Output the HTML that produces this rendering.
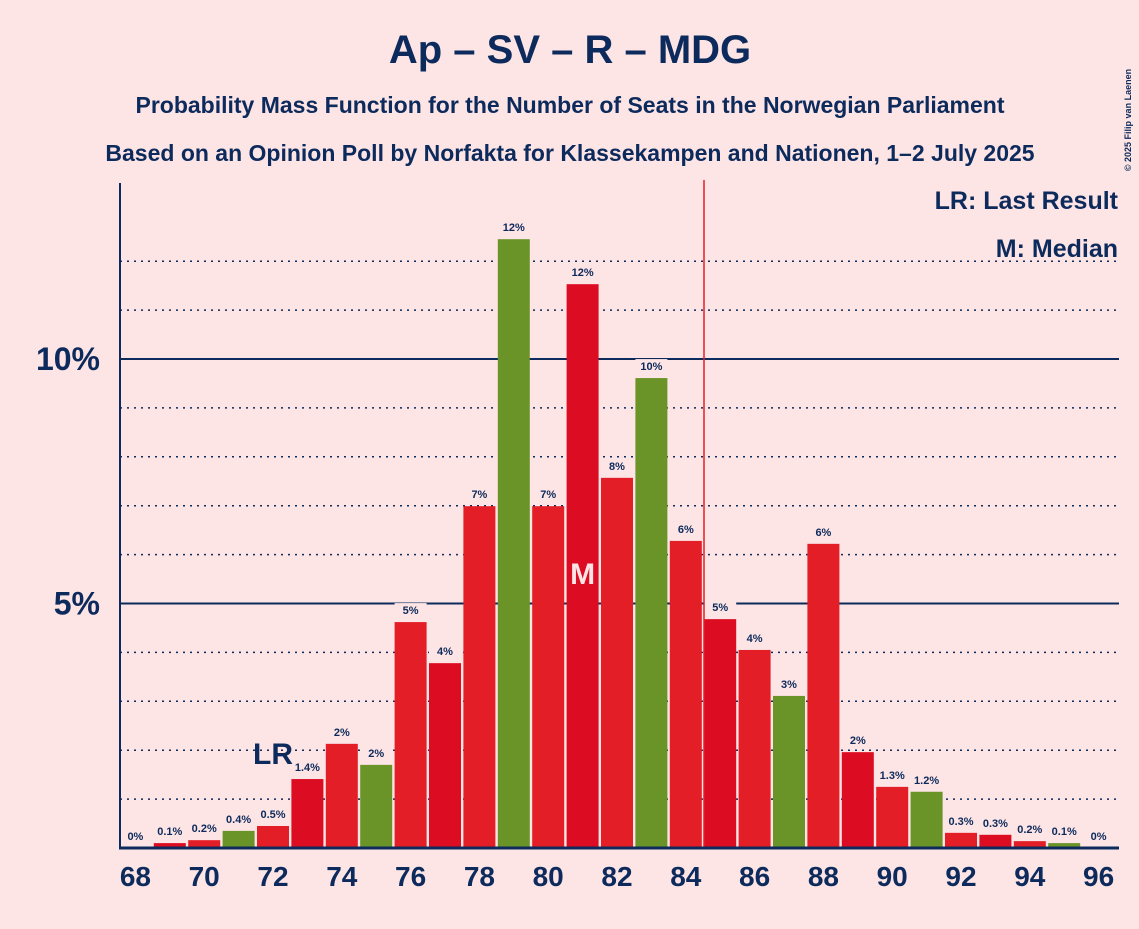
<!DOCTYPE html>
<html><head><meta charset="utf-8"><style>
body{margin:0;background:#fde4e5;font-family:"Liberation Sans",sans-serif;}
svg text{font-family:"Liberation Sans",sans-serif;fill:#0c2a5b;font-weight:bold;}
</style></head><body>
<svg id="c" width="1139" height="924">
<rect width="1139" height="924" fill="#fde4e5"/>
<text x="570" y="63" font-size="40" text-anchor="middle">Ap – SV – R – MDG</text>
<text x="570" y="113" font-size="23" text-anchor="middle">Probability Mass Function for the Number of Seats in the Norwegian Parliament</text>
<text x="570" y="161" font-size="23" text-anchor="middle">Based on an Opinion Poll by Norfakta for Klassekampen and Nationen, 1–2 July 2025</text>
<text x="1131" y="120" font-size="9" font-weight="normal" transform="rotate(-90 1131 120)" text-anchor="middle">© 2025 Filip van Laenen</text>
<g id="grid"></g><g id="bars"></g>
<line x1="704" y1="180" x2="704" y2="848" stroke="#e31e26" stroke-width="1.5"/>
<line x1="120" y1="183" x2="120" y2="849" stroke="#0c2a5b" stroke-width="2"/>
<line x1="119" y1="848" x2="1119" y2="848" stroke="#0c2a5b" stroke-width="3"/>
<text x="1118" y="209" font-size="25" text-anchor="end">LR: Last Result</text>
<text x="1118" y="257" font-size="25" text-anchor="end">M: Median</text>
</svg>
<script>
const seats=[68,69,70,71,72,73,74,75,76,77,78,79,80,81,82,83,84,85,86,87,88,89,90,91,92,93,94,95,96];
const probs=[0,0.1,0.16,0.35,0.45,1.41,2.13,1.7,4.62,3.78,6.99,12.45,6.99,11.53,7.57,9.61,6.28,4.68,4.05,3.11,6.22,1.96,1.25,1.15,0.31,0.27,0.14,0.1,0];
const labels=["0%","0.1%","0.2%","0.4%","0.5%","1.4%","2%","2%","5%","4%","7%","12%","7%","12%","8%","10%","6%","5%","4%","3%","6%","2%","1.3%","1.2%","0.3%","0.3%","0.2%","0.1%","0%"];
const yTicks=[5,10];
const lastResult=72, median=81;
const NS="http://www.w3.org/2000/svg";
const x=s=>135.4+(s-68)*34.4;
const y=p=>848-p*48.9;
const grid=document.getElementById('grid'),bars=document.getElementById('bars');
function mk(tag,attrs,parent){const e=document.createElementNS(NS,tag);for(const k in attrs)e.setAttribute(k,attrs[k]);parent.appendChild(e);return e;}
for(let p=1;p<=12;p++){
  const solid=yTicks.includes(p);
  const l=mk('line',{x1:120,x2:1119,y1:y(p),y2:y(p),stroke:'#0c2a5b','stroke-width':solid?2:1.5,'stroke-dasharray':solid?'':'2,5'},grid);
  
  
}
yTicks.forEach(t=>{const e=mk('text',{x:100,y:y(t)+11,'font-size':32,'text-anchor':'end'},grid);e.textContent=t+'%';
  
  });
const cols=['#e31e26','#dc0d22','#e31e26','#6a9428'];
seats.forEach((s,i)=>{
  const p=probs[i];
  if(p>0){const r=mk('rect',{x:x(s)-16,y:y(p),width:32,height:848-y(p),fill:cols[(s-68)%4]},bars);
    
    }
  const bg=mk('rect',{x:x(s)-16,y:y(p)-19,width:32,height:13,fill:'#fde4e5'},bars);
  
  
  const t=mk('text',{x:x(s),y:y(p)-8,'font-size':11,'text-anchor':'middle'},bars);t.textContent=labels[i];
  
  
  if(s%2===0){const tk=mk('text',{x:x(s),y:886,'font-size':28,'text-anchor':'middle'},bars);tk.textContent=s;
    
    }
});
const i81=seats.indexOf(median);
const m=mk('text',{x:x(median),y:y(probs[i81])+300,'font-size':30,'text-anchor':'middle',style:'fill:#fde4e5'},bars);m.textContent='M';


const i72=seats.indexOf(lastResult);
const lr=mk('text',{x:x(lastResult),y:y(probs[i72])-62,'font-size':30,'text-anchor':'middle'},bars);lr.textContent='LR';


</script>
</body></html>
